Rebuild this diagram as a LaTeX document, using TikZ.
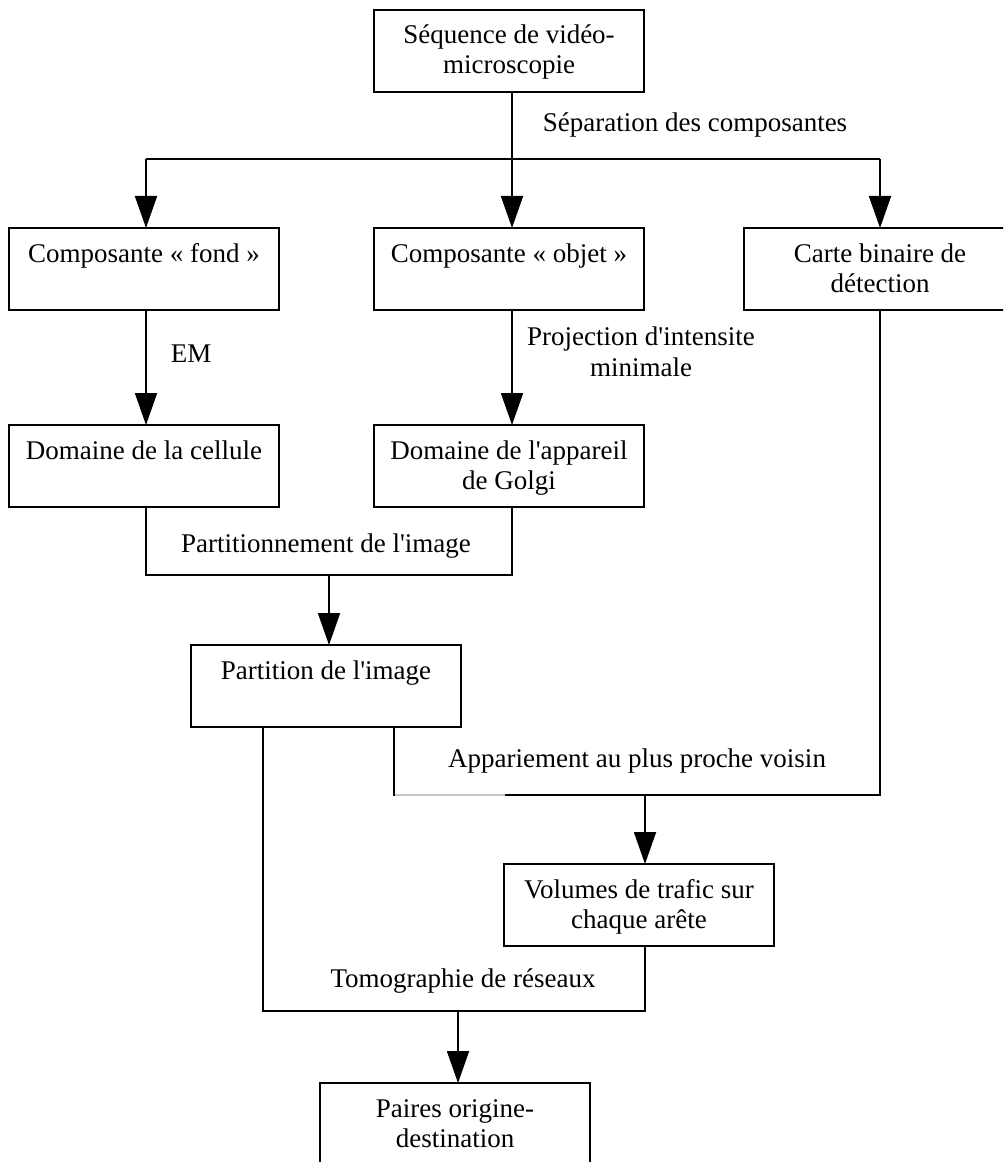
\documentclass[tikz,border=0pt]{standalone}
\usepackage{fontspec}
\setmainfont{Liberation Serif}
\usetikzlibrary{arrows.meta,calc}
\newcommand{\bxt}[2][202.5pt]{\parbox[c][61.5pt][t]{#1}{\centering\rule{0pt}{25.5pt}#2\par}}
\newcommand{\apos}{\textquotesingle}
\tikzset{
  txt/.style={font=\fontsize{20.25pt}{22.5pt}\selectfont},
  boxnode/.style={txt, draw, line width=1.4pt, inner sep=0pt, outer sep=0pt, anchor=north west},
  lbl/.style={txt, anchor=base, inner sep=0pt},
  conn/.style={line width=1.4pt},
  arr/.style={conn, -{Triangle[width=16.5pt,length=24pt]}}
}
\begin{document}
\begin{tikzpicture}[x=0.75pt,y=-0.75pt]
\clip (0,0) rectangle (1003,1162);
\fill[white] (0,0) rectangle (1003,1162);
% boxes
\node[boxnode] (seq) at (374,10) {\bxt{Séquence de vidéo-\\microscopie}};
\node[boxnode] (fond) at (9,228) {\bxt{Composante « fond »}};
\node[boxnode] (objet) at (374,228) {\bxt{Composante « objet »}};
\node[boxnode] (carte) at (744,228) {\bxt[204pt]{Carte binaire de\\détection}};
\node[boxnode] (cellule) at (9,425) {\bxt{Domaine de la cellule}};
\node[boxnode] (golgi) at (374,425) {\bxt{Domaine de l\apos appareil\\de Golgi}};
\node[boxnode] (partition) at (191,645) {\bxt{Partition de l\apos image}};
\node[boxnode] (volumes) at (504,864) {\bxt{Volumes de trafic sur\\chaque arête}};
\node[boxnode] (paires) at (320,1083) {\bxt{Paires origine-\\destination}};
% labels
\node[lbl] (lsep) at (695,132) {Séparation des composantes};
\node[lbl] (lem) at (191,362) {EM};
\node[lbl] (lproj1) at (641,345) {Projection d\apos intensite};
\node[lbl] (lproj2) at (641,376) {minimale};
\node[lbl] (lpart) at (326,552) {Partitionnement de l\apos image};
\node[lbl] (lapp) at (637,767) {Appariement au plus proche voisin};
\node[lbl] (ltomo) at (463,987) {Tomographie de réseaux};
% helper coordinates
\coordinate (ySep) at (0,159);
\coordinate (yPart) at (0,575);
\coordinate (yApp) at (0,795);
\coordinate (yTomo) at (0,1011);
\coordinate (pR) at ($(partition.south)+(68,0)$);
\coordinate (pL) at ($(partition.south)+(-63,0)$);
\coordinate (seqS) at ($(seq.south)+(3,0)$);
\coordinate (objN) at ($(objet.north)+(3,0)$);
\coordinate (objS) at ($(objet.south)+(3,0)$);
\coordinate (golN) at ($(golgi.north)+(3,0)$);
\coordinate (golS) at ($(golgi.south)+(3,0)$);
\coordinate (fondN) at ($(fond.north)+(2,0)$);
\coordinate (fondS) at ($(fond.south)+(2,0)$);
\coordinate (celN) at ($(cellule.north)+(2,0)$);
\coordinate (celS) at ($(cellule.south)+(2,0)$);
\coordinate (partN) at ($(partition.north)+(3,0)$);
\coordinate (volN) at ($(volumes.north)+(6,0)$);
\coordinate (volS) at ($(volumes.south)+(6,0)$);
\coordinate (paiN) at ($(paires.north)+(3,0)$);
% connectors
\draw[arr] (seqS) -- (objN);
\draw[conn] (fondN |- ySep) -- (carte.north |- ySep);
\draw[arr] (fondN |- ySep) -- (fondN);
\draw[arr] (carte.north |- ySep) -- (carte.north);
\draw[arr] (fondS) -- (celN);
\draw[arr] (objS) -- (golN);
\draw[conn] (celS) -- (celS |- yPart) -- (golS |- yPart) -- (golS);
\draw[arr] (partN |- yPart) -- (partN);
\draw[conn] (pR) -- (pR |- yApp) -- (carte.south |- yApp) -- (carte.south);
\coordinate (grayA) at (pR |- yApp);
\draw[line width=1.4pt, gray!45] ($(grayA)+(1,0)$) -- ++(110,0);
\draw[arr] (volN |- yApp) -- (volN);
\draw[conn] (pL) -- (pL |- yTomo) -- (volS |- yTomo) -- (volS);
\draw[arr] (paiN |- yTomo) -- (paiN);
\end{tikzpicture}
\end{document}
